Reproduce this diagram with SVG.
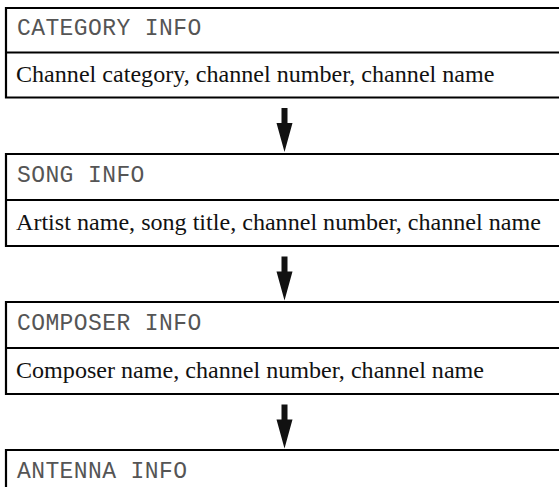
<svg xmlns="http://www.w3.org/2000/svg" xmlns:xlink="http://www.w3.org/1999/xlink" width="559" height="487" viewBox="0 0 559 487">
<style>
.frame{fill:none;stroke:#000;stroke-width:2.2}
.hdr{font-family:"Liberation Mono","DejaVu Sans Mono",monospace;font-size:23px;letter-spacing:0.4px;fill:#555}
.body{font-family:"Liberation Serif","Times New Roman",serif;font-size:24.1px;fill:#111}
.arr{fill:#111}
</style>
<defs>
<path id="arrow" d="M-3,0 H3 V15 H8 L0,44 L-8,15 H-3 Z"/>
</defs>
<rect width="559" height="487" fill="#fff"/>
<g id="category-info">
<path class="frame" d="M559,8 H6 V97.5 H559 M6,52.5 H559"/>
<text class="hdr" x="17" y="35">CATEGORY INFO</text>
<text class="body" x="16" y="82">Channel category, channel number, channel name</text>
</g>
<g id="song-info">
<path class="frame" d="M559,154 H6 V246 H559 M6,200 H559"/>
<text class="hdr" x="17" y="182">SONG INFO</text>
<text class="body" x="16" y="230">Artist name, song title, channel number, channel name</text>
</g>
<g id="composer-info">
<path class="frame" d="M559,302 H6 V394 H559 M6,348 H559"/>
<text class="hdr" x="17" y="330">COMPOSER INFO</text>
<text class="body" x="16" y="378">Composer name, channel number, channel name</text>
</g>
<g id="antenna-info">
<path class="frame" d="M559,450 H6 V490"/>
<text class="hdr" x="17" y="478">ANTENNA INFO</text>
</g>
<g id="connectors" class="arr">
<use xlink:href="#arrow" transform="translate(284.5,108)"/>
<use xlink:href="#arrow" transform="translate(284.5,256.5)"/>
<use xlink:href="#arrow" transform="translate(284.5,404.5)"/>
</g>
</svg>
